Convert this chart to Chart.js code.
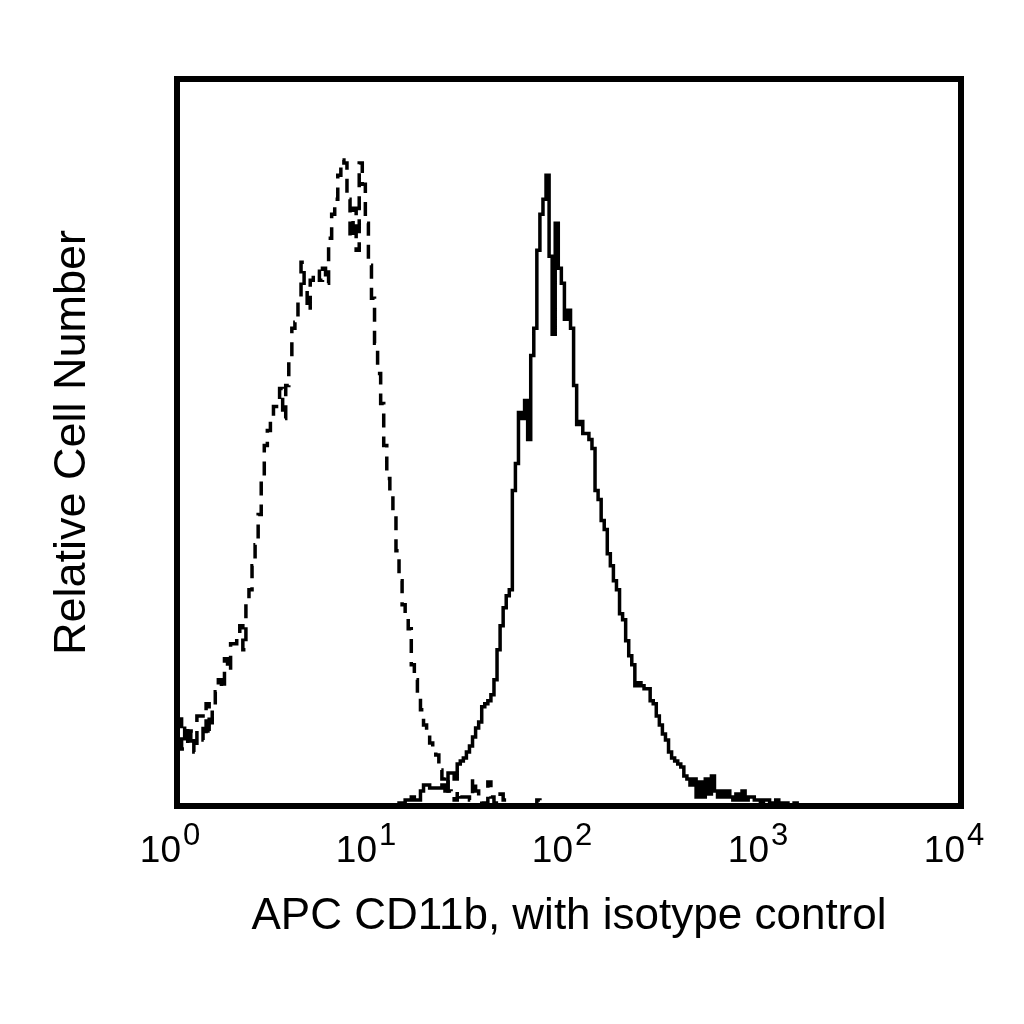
<!DOCTYPE html>
<html>
<head>
<meta charset="utf-8">
<title>APC CD11b histogram</title>
<script src="https://cdn.jsdelivr.net/npm/chart.js@4"></script>
<style>
  html, body { margin: 0; padding: 0; background: #fff; }
  #c { display: block; }
</style>
</head>
<body>
<canvas id="c" width="1024" height="1024"></canvas>
<script>
// histogram channels: 256 channels over 4 decades (64 per decade)
const channelsPerDecade = 64;

// isotype control (dashed), counts from channel 0
const isoStart = 0;
const isoCounts = [
  29, 29, 19, 27, 20, 25, 18, 30, 30, 22,
  34, 25, 32, 38, 42, 39, 49, 45, 54, 54,
  55, 60, 52, 69, 72, 80, 87, 97, 109, 120,
  125, 129, 133, 135, 139, 129, 140, 149, 159, 161,
  169, 181, 172, 165, 175, 177, 178, 175, 179, 174,
  189, 197, 202, 210, 215, 214, 202, 189, 199, 185,
  214, 207, 194, 180, 169, 154, 144, 134, 120, 109,
  104, 97, 85, 75, 67, 63, 59, 47, 42, 37,
  32, 27, 24, 21, 19, 17, 12, 9, 10, 5,
  4, 2, 5, 3, 3, 3, 2, 9, 5, 2,
  1, 1, 8, 3, 1, 1, 4, 2, 0, 0,
  0, 0, 0, 0, 0, 0, 0, 0, 2, 0
];

// APC CD11b stain (solid), counts from channel 72
const cdStart = 72;
const cdCounts = [
  0, 1, 1, 2, 2, 3, 2, 2, 5, 7,
  7, 6, 6, 6, 6, 7, 5, 11, 11, 9,
  14, 15, 16, 18, 20, 23, 26, 28, 33, 34,
  35, 37, 42, 52, 60, 66, 70, 72, 105, 114,
  131, 129, 135, 122, 150, 159, 185, 197, 202, 210,
  183, 157, 194, 179, 174, 162, 165, 159, 140, 127,
  128, 124, 124, 122, 119, 105, 102, 95, 92, 84,
  80, 75, 72, 64, 62, 55, 50, 47, 40, 41,
  40, 39, 39, 35, 34, 30, 27, 24, 22, 18,
  16, 15, 14, 13, 10, 9, 7, 9, 3, 8,
  3, 9, 4, 10, 5, 3, 5, 3, 5, 3,
  2, 4, 2, 5, 2, 3, 3, 2, 2, 1,
  2, 2, 1, 1, 2, 0, 1, 1, 0, 0,
  1, 0
];

// x axis decades and their labels (10^n)
const tickValues = [1, 10, 100, 1000, 10000];
const tickExponents = ['0', '1', '2', '3', '4'];

const xTitle = 'APC CD11b, with isotype control';
const yTitle = 'Relative Cell Number';

const FONT = '"Liberation Sans", Arial, Helvetica, sans-serif';

function toPoints(start, counts) {
  return counts.map((v, i) => ({
    x: Math.pow(10, (start + i) / channelsPerDecade),
    y: v
  }));
}

// box round the plot area
const frame = {
  id: 'frame',
  afterDatasetsDraw(chart) {
    const { ctx, chartArea: a } = chart;
    ctx.save();
    ctx.strokeStyle = '#000';
    ctx.lineWidth = 6;
    ctx.strokeRect(a.left, a.top, a.right - a.left, a.bottom - a.top);
    ctx.restore();
  }
};

// decade labels with a raised exponent
const decadeLabels = {
  id: 'decadeLabels',
  afterDraw(chart) {
    const { ctx } = chart;
    const x = chart.scales.x;
    ctx.save();
    ctx.fillStyle = '#000';
    ctx.textBaseline = 'alphabetic';
    ctx.textAlign = 'left';
    x.ticks.forEach((t, i) => {
      const exp = tickExponents[i];
      ctx.font = '37px ' + FONT;
      const wb = ctx.measureText('10').width;
      ctx.font = '31px ' + FONT;
      const we = ctx.measureText(exp).width;
      const cx = x.getPixelForValue(t.value) - 7;
      const left = cx - (wb + we + 2) / 2;
      ctx.font = '37px ' + FONT;
      ctx.fillText('10', left, x.top + 56);
      ctx.font = '31px ' + FONT;
      ctx.fillText(exp, left + wb + 2, x.top + 39);
    });
    ctx.restore();
  }
};

const chart = new Chart(document.getElementById('c').getContext('2d'), {
  type: 'line',
  data: {
    datasets: [
      {
        label: 'Isotype control',
        data: toPoints(isoStart, isoCounts),
        borderColor: '#000',
        borderWidth: 3.5,
        borderDash: [14, 9],
        stepped: 'middle',
        pointRadius: 0,
        fill: false
      },
      {
        label: 'APC CD11b',
        data: toPoints(cdStart, cdCounts),
        borderColor: '#000',
        borderWidth: 3.5,
        stepped: 'middle',
        pointRadius: 0,
        fill: false
      }
    ]
  },
  options: {
    responsive: false,
    devicePixelRatio: 1,
    animation: false,
    layout: { padding: { top: 79, right: 63, bottom: 0, left: 0 } },
    plugins: {
      legend: { display: false },
      tooltip: { enabled: false }
    },
    scales: {
      x: {
        type: 'logarithmic',
        min: 1,
        max: 10000,
        grid: { display: false },
        border: { display: false },
        ticks: { display: false },
        afterBuildTicks(scale) {
          scale.ticks = tickValues.map(v => ({ value: v }));
        },
        afterFit(scale) { scale.height = 218; },
        title: {
          display: true,
          text: xTitle,
          color: '#000',
          font: { family: FONT, size: 44, lineHeight: 1 },
          padding: { top: 0, bottom: 85 }
        }
      },
      y: {
        min: 0,
        max: 242,
        grid: { display: false },
        border: { display: false },
        ticks: { display: false },
        afterFit(scale) { scale.width = 177; },
        title: {
          display: true,
          text: yTitle,
          color: '#000',
          font: { family: FONT, size: 45, lineHeight: 1 },
          padding: { top: 50, bottom: 0 }
        }
      }
    }
  },
  plugins: [frame, decadeLabels]
});
</script>
</body>
</html>
